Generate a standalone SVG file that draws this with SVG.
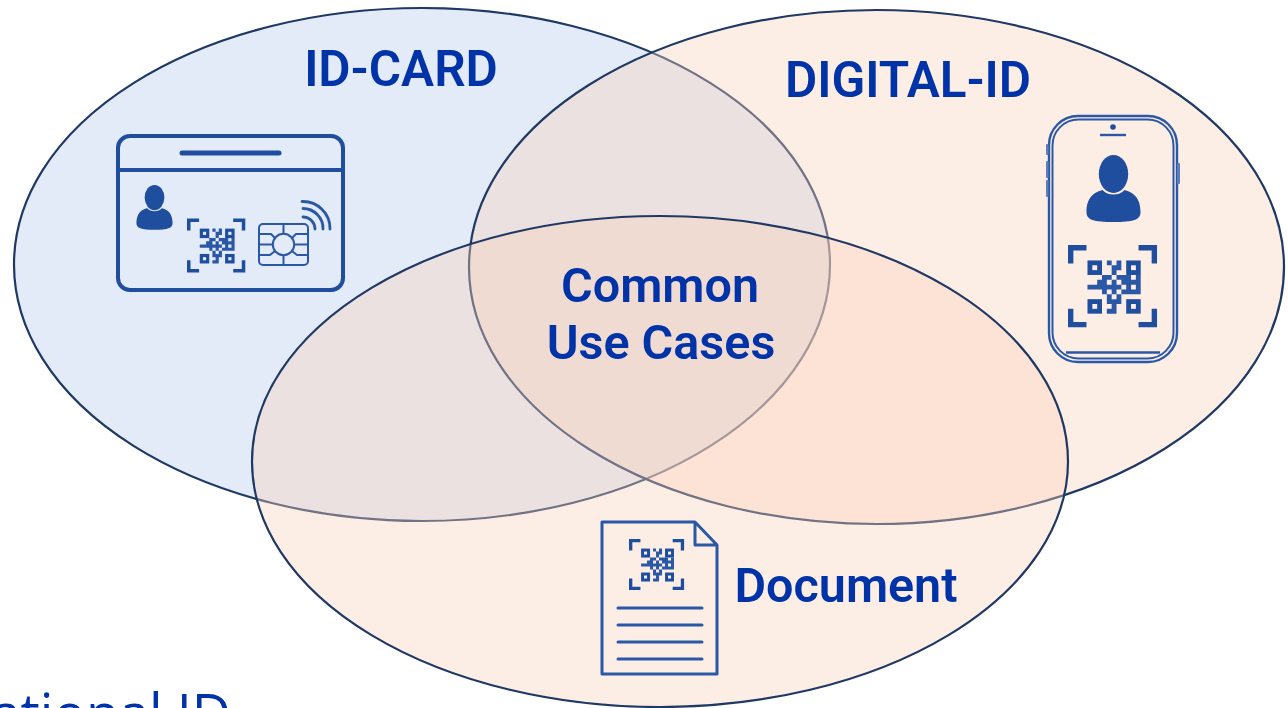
<svg xmlns="http://www.w3.org/2000/svg" width="1288" height="708" viewBox="0 0 1288 708">
<style>
.e{stroke:#1f3864;stroke-width:2.2}
.p{fill:#f9d3ba;fill-opacity:.38}
.l{font-family:Roboto,"Liberation Sans",sans-serif;font-weight:600;font-size:48.500px;fill:#0033a8}
.b{font-size:49.500px}
.ic{fill:#1f4e9f;stroke:none}
.ln{fill:none;stroke:#2a58a6;stroke-linecap:round;stroke-linejoin:round}
</style>
<defs>
<g id="qr">
<path fill="#1f4e9f" d="M0 0H55V16H16V55H0ZM210 0H265V55H249V16H210ZM0 190H16V229H55V245H0ZM249 190H265V245H210V229H249Z"/>
<g transform="translate(58 46) scale(14.400)">
<g fill="none" stroke="#1f4e9f" stroke-width="1">
<rect x=".5" y=".5" width="2" height="2"/><rect x="8.500" y=".5" width="2" height="2"/><rect x=".5" y="8.500" width="2" height="2"/><rect x="8.500" y="8.500" width="2" height="2"/>
</g>
<path fill="#2a58a6" d="M4 0h1v1h-1zM6 0h1v1h-1zM5 1h2v1h-2zM5 2h1v1h-1zM3 3h2v1h-2zM6 3h3v1h-3zM10 3h1v1h-1zM2 4h2v1h-2zM5 4h1v1h-1zM7 4h4v1h-4zM0 5h7v1h-7zM8 5h1v1h-1zM10 5h1v1h-1zM3 6h1v1h-1zM5 6h1v1h-1zM7 6h4v1h-4zM4 7h1v1h-1zM6 7h1v1h-1zM4 8h3v1h-3zM5 9h1v1h-1zM4 10h2v1h-2z"/>
</g>
</g>
<g id="person">
<ellipse cx="0" cy="-14" rx="14.700" ry="19"/>
<path d="M-11 2C-6 8 6 8 11 2C19 4 27 9 27 24C27 32 20 34 0 34C-20 34-27 32-27 24C-27 9-19 4-11 2Z"/>
</g>
</defs>
<g id="venn">
<ellipse id="id-card-circle" class="e" cx="422" cy="264.500" rx="408" ry="256.500" fill="#e3ebf8"/>
<ellipse id="digital-id-circle" class="e p" cx="876.500" cy="267" rx="407.500" ry="257"/>
<ellipse id="document-circle" class="e p" cx="660" cy="461.500" rx="408" ry="245.500"/>
</g>
<g id="id-card">
<rect x="118" y="136" width="225" height="154" rx="12" fill="none" stroke="#1f4e9f" stroke-width="4"/>
<path d="M118 170H343" fill="none" stroke="#1f4e9f" stroke-width="4"/>
<path d="M182 153H279" fill="none" stroke="#1f4e9f" stroke-width="5" stroke-linecap="round"/>
<use href="#person" class="ic" transform="translate(154.500 207) scale(.67)"/>
<use href="#qr" transform="translate(187 218.500) scale(.22)"/>
<g class="ln" stroke-width="2">
<rect x="259" y="224" width="49" height="41" rx="4"/>
<circle cx="283.500" cy="244.500" r="10.700"/>
<path d="M259 234H271L275 238M259 244.500H272M259 255H270L275 251M308 234H296L292 238M308 244.500H295M308 255H297L292 251M283.500 224V233M283.500 256V265"/>
</g>
<g fill="none" stroke="#2a58a6" stroke-width="2.800" stroke-linecap="round">
<path d="M302 201.500A27 27 0 0 1 330 229M303 208.500A20 20 0 0 1 323 229M303 217A12 12 0 0 1 315 229"/>
</g>
</g>
<g id="digital-id">
<rect x="1049" y="116" width="128" height="246" rx="29" fill="none" stroke="#2a58a6" stroke-width="2.400"/>
<rect x="1052.500" y="119.500" width="121" height="239" rx="26" fill="none" stroke="#2a58a6" stroke-width="2"/>
<g fill="#5c7fbb">
<rect x="1046" y="144" width="2.500" height="11" rx="1"/><rect x="1046" y="161" width="2.500" height="17" rx="1"/><rect x="1046" y="180" width="2.500" height="17" rx="1"/><rect x="1177" y="163" width="3" height="21" rx="1"/>
</g>
<circle cx="1113" cy="127" r="2.800" fill="#1f4e9f"/>
<path d="M1100 135H1126" stroke="#2a58a6" stroke-width="2.400"/>
<use href="#person" class="ic" transform="translate(1113.500 188)"/>
<use href="#qr" transform="translate(1068 245) scale(.336)"/>
<path d="M1066 352.500H1160" stroke="#2a58a6" stroke-width="2.400"/>
</g>
<g id="document">
<path class="ln" stroke-width="3" d="M602 522H695L717 545V674H602ZM695 522V545H717"/>
<use href="#qr" transform="translate(629 539) scale(.208)"/>
<path class="ln" stroke-width="3" d="M618 608H702M618 625H702M618 642H702M618 659H702"/>
</g>
<g id="labels">
<text class="l b" x="401" y="86" text-anchor="middle">ID-CARD</text>
<text class="l b" x="908" y="97" text-anchor="middle">DIGITAL-ID</text>
<text class="l" x="660" y="302" text-anchor="middle">Common</text>
<text class="l" x="661" y="359" text-anchor="middle">Use Cases</text>
<text class="l" x="846" y="602" text-anchor="middle">Document</text>
<text x="231" y="733" text-anchor="end" font-family="'Open Sans',sans-serif" font-size="54" fill="#0033a8">National ID</text>
</g>
</svg>
